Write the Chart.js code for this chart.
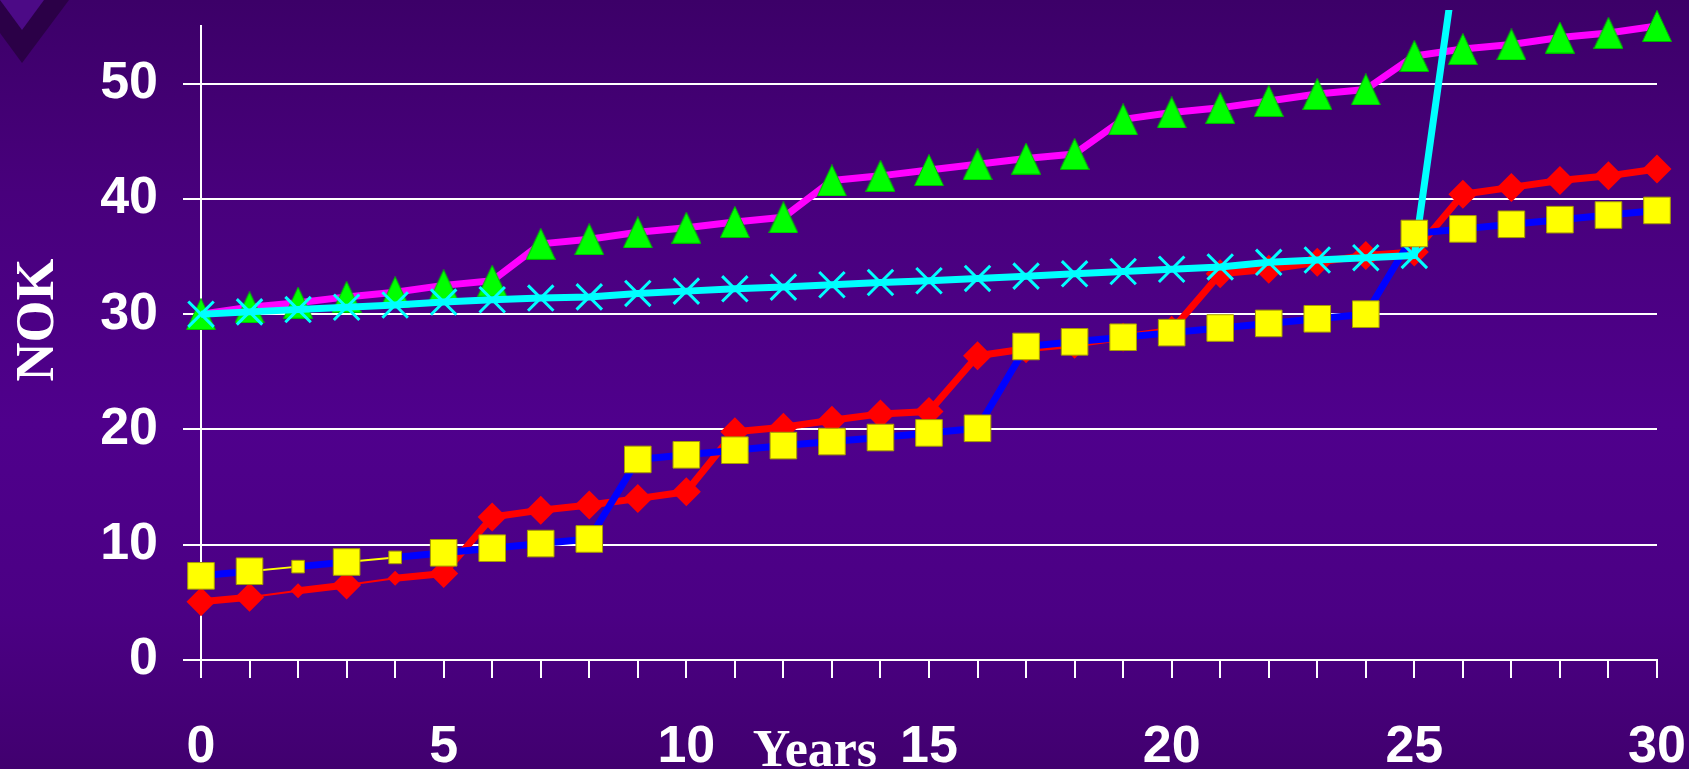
<!DOCTYPE html>
<html>
<head>
<meta charset="utf-8">
<script src="https://cdn.jsdelivr.net/npm/chart.js@4.4.1/dist/chart.umd.min.js"></script>
<style>
html, body { margin: 0; padding: 0; overflow: hidden; }
#fond {
    position: relative;
    width: 1689px;
    height: 769px;
    background: linear-gradient(to bottom, #3c0068 0%, #48007c 25%, #4f008c 55%, #4b0084 80%, #41006f 100%);
}
.chevron { position: absolute; left: 0; top: 0; }
.sombre { width: 69px; height: 63px; background: #2b0047; clip-path: polygon(0 0, 69px 0, 22px 63px, 0 33px); }
.clair { width: 44px; height: 30px; background: #4c0a86; clip-path: polygon(0 0, 44px 0, 22px 30px); }
canvas { position: absolute; left: 0; top: 0; }
</style>
</head>
<body>
<div id="fond">
    <div class="chevron sombre"></div>
    <div class="chevron clair"></div>
    <canvas id="myChart" width="1689" height="769"></canvas>
</div>
<script>
// valeurs
let annees = [0, 1, 2, 3, 4, 5, 6, 7, 8, 9, 10, 11, 12, 13, 14, 15,
    16, 17, 18, 19, 20, 21, 22, 23, 24, 25, 26, 27, 28, 29, 30];

let tri_vert = [30.0, 30.6, 31.0, 31.5, 31.9, 32.5, 32.9, 36.1, 36.5, 37.1, 37.5, 38.0, 38.4, 41.6, 42.0, 42.5,
    43.0, 43.5, 43.9, 46.9, 47.5, 47.9, 48.5, 49.1, 49.5, 52.4, 53.0, 53.4, 54.0, 54.4, 55.0];

let croix_cyan = [30.0, 30.2, 30.4, 30.6, 30.8, 31.05, 31.25, 31.4, 31.5, 31.8, 32.0, 32.2, 32.35, 32.55, 32.75, 32.9,
    33.1, 33.3, 33.5, 33.7, 33.9, 34.1, 34.5, 34.7, 34.9, 35.1, 65.0, null, null, null, null];

let losanges_rouges = [5.05, 5.45, 6.0, 6.5, 7.1, 7.5, 12.4, 13.0, 13.45, 14.0, 14.6, 19.8, 20.2, 20.8, 21.35, 21.55,
    26.4, 27.0, 27.4, 28.0, 28.6, 33.5, 33.9, 34.5, 35.1, 35.4, 40.4, 41.0, 41.6, 42.0, 42.6];

let carres_jaunes = [7.3, 7.7, 8.1, 8.5, 8.9, 9.3, 9.7, 10.1, 10.5, 17.4, 17.8, 18.2, 18.6, 18.95, 19.3, 19.7,
    20.1, 27.2, 27.6, 28.0, 28.4, 28.8, 29.2, 29.6, 30.0, 37.0, 37.4, 37.8, 38.2, 38.6, 39.0];

let etiquettes_x = ['0', '5', '10', '15', '20', '25', '30'];
let graduations_y = [0, 10, 20, 30, 40, 50];

// petits marqueurs et segments fins au debut des courbes
let petits_points = [2, 4];
let segments_fins = [1, 3];

let police_chiffres = { family: '"Liberation Sans", Arial, sans-serif', size: 52, weight: 'bold' };

function rayons(grand, petit) {
    return annees.map((a, i) => petits_points.includes(i) ? petit : grand);
}

function segment_fin(ctx) {
    return segments_fins.includes(ctx.p0DataIndex);
}

function faire_triangle() {
    let c = document.createElement('canvas');
    c.width = 30;
    c.height = 32;
    let g = c.getContext('2d');
    g.beginPath();
    g.moveTo(0.5, 31.5);
    g.lineTo(15, 0.5);
    g.lineTo(29.5, 31.5);
    g.closePath();
    g.fillStyle = '#00ff00';
    g.fill();
    g.strokeStyle = '#00b400';
    g.lineWidth = 1;
    g.stroke();
    return c;
}

const titres_axes = {
    id: 'titres_axes',
    afterDraw(chart) {
        const ctx = chart.ctx;
        const sx = chart.scales.x;
        const sy = chart.scales.y;
        ctx.save();
        ctx.fillStyle = '#ffffff';
        ctx.textAlign = 'center';
        ctx.font = 'bold 52px "Liberation Serif", "Times New Roman", serif';
        ctx.textBaseline = 'alphabetic';
        ctx.fillText('Years', sx.getPixelForValue(12.65), 766);
        ctx.font = 'bold 54px "Liberation Serif", "Times New Roman", serif';
        ctx.translate(39, sy.getPixelForValue(29.5));
        ctx.rotate(-Math.PI / 2);
        ctx.textBaseline = 'middle';
        ctx.fillText('NOK', 0, 0);
        ctx.restore();
    }
};

const ctx = document.getElementById('myChart');

let my_chart = new Chart(ctx, {
    type: 'line',
    data: {
        labels: annees,
        datasets: [{
            // carres jaunes (au dessus de tout)
            data: carres_jaunes,
            showLine: false,
            pointStyle: 'rect',
            pointRadius: rayons(18.8, 8.9),
            pointBackgroundColor: '#ffff00',
            pointBorderColor: '#a89c00',
            pointBorderWidth: 1,
            clip: false
        }, {
            data: croix_cyan,
            borderColor: '#00ffff',
            borderWidth: 7,
            pointStyle: 'crossRot',
            pointRadius: 18,
            pointBorderColor: '#00ffff',
            pointBorderWidth: 3,
            clip: { left: 40, top: 16, right: 40, bottom: 40 }
        }, {
            data: tri_vert,
            showLine: false,
            pointStyle: faire_triangle(),
            pointRadius: 15,
            clip: false
        }, {
            data: tri_vert,
            borderColor: '#ff00ff',
            borderWidth: 7,
            pointRadius: 0,
            clip: false
        }, {
            data: carres_jaunes,
            borderColor: '#0000ff',
            borderWidth: 7,
            pointRadius: 0,
            segment: {
                borderColor: c => segment_fin(c) ? '#ffff00' : '#0000ff',
                borderWidth: c => segment_fin(c) ? 2 : 7
            },
            clip: false
        }, {
            data: losanges_rouges,
            borderColor: '#ff0000',
            borderWidth: 7,
            pointStyle: 'rectRot',
            pointRadius: rayons(14.5, 7.5),
            pointBackgroundColor: '#ff0000',
            pointBorderWidth: 0,
            segment: {
                borderWidth: c => segment_fin(c) ? 2 : 7
            },
            clip: false
        }]
    },
    options: {
        responsive: false,
        animation: false,
        layout: { padding: { top: 26, right: 32, bottom: 0, left: 0 } },
        elements: { line: { tension: 0, borderJoinStyle: 'round' } },
        plugins: {
            legend: { display: false },
            tooltip: { enabled: false }
        },
        scales: {
            x: {
                type: 'category',
                offset: false,
                grid: { drawOnChartArea: false, color: '#ffffff', lineWidth: 2, tickLength: 18 },
                border: { display: true, color: '#ffffff', width: 2 },
                ticks: {
                    autoSkip: false,
                    maxRotation: 0,
                    padding: 38,
                    color: '#ffffff',
                    font: police_chiffres,
                    callback: function(value, index) {
                        let t = String(annees[index]);
                        return etiquettes_x.includes(t) ? t : '';
                    }
                },
                afterFit: function(scale) {
                    scale.height = 109;
                    scale.paddingLeft = 0;
                    scale.paddingRight = 0;
                }
            },
            y: {
                min: 0,
                max: 55,
                grid: { color: '#ffffff', lineWidth: 2, tickLength: 18 },
                border: { display: true, color: '#ffffff', width: 2 },
                ticks: { padding: 25, color: '#ffffff', font: police_chiffres },
                afterBuildTicks: function(scale) {
                    scale.ticks = graduations_y.map(v => ({ value: v }));
                },
                afterFit: function(scale) {
                    scale.width = 201;
                    scale.paddingTop = 0;
                    scale.paddingBottom = 0;
                }
            }
        }
    },
    plugins: [titres_axes]
});
</script>
</body>
</html>
